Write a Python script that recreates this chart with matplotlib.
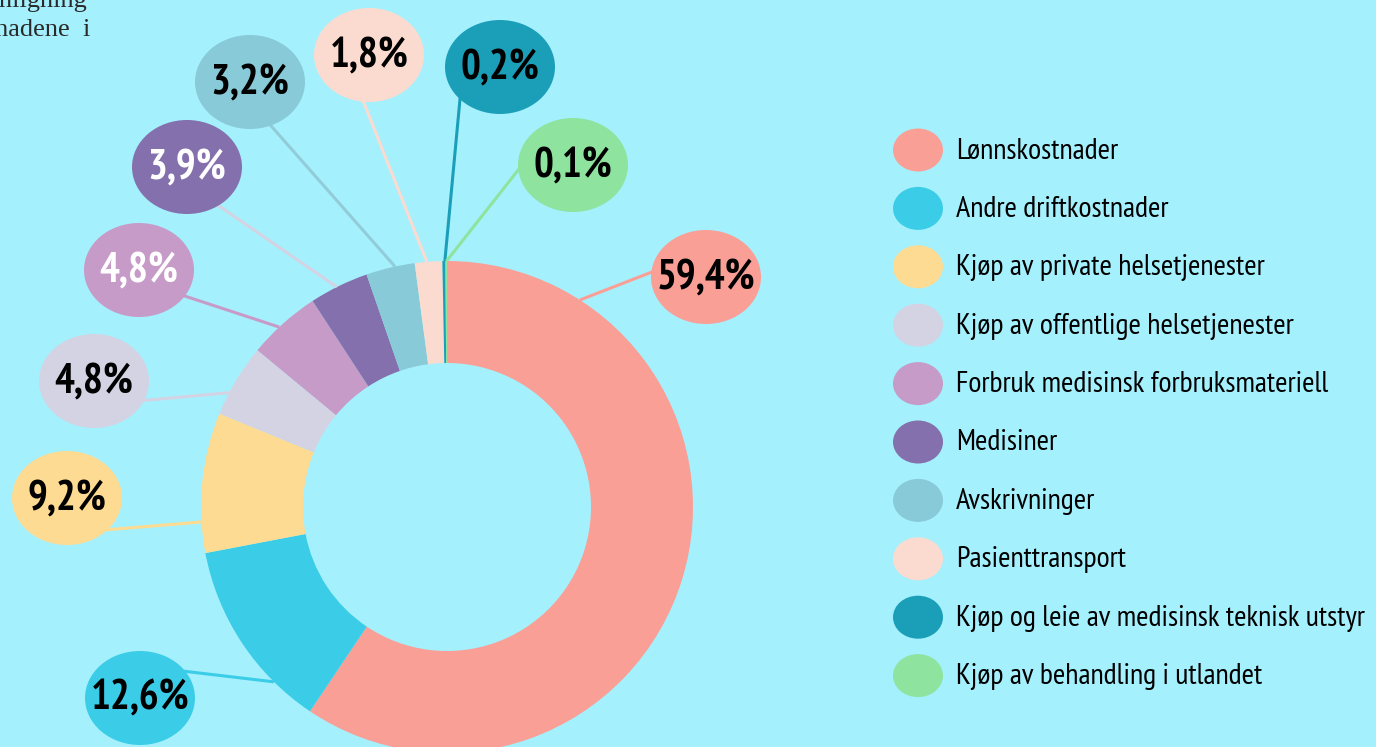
import matplotlib
matplotlib.use('Agg')
import matplotlib.pyplot as plt
from matplotlib.patches import Ellipse
import numpy as np

categories = ['Lønnskostnader', 'Andre driftkostnader', 'Kjøp av private helsetjenester',
              'Kjøp av offentlige helsetjenester', 'Forbruk medisinsk forbruksmateriell',
              'Medisiner', 'Avskrivninger', 'Pasienttransport',
              'Kjøp og leie av medisinsk teknisk utstyr', 'Kjøp av behandling i utlandet']
values = [59.4, 12.6, 9.2, 4.8, 4.8, 3.9, 3.2, 1.8, 0.2, 0.1]
value_labels = ['59,4%', '12,6%', '9,2%', '4,8%', '4,8%', '3,9%', '3,2%', '1,8%', '0,2%', '0,1%']

colors = ['#FA9F96', '#3BCDE7', '#FEDB92', '#D4D3E3', '#C69BC8',
          '#8470AD', '#88CAD7', '#FBDBD0', '#1B9FB8', '#8EE39E']
line_colors = ['#FA9F96', '#3BCDE7', '#FEDB92', '#D4D3E3', '#C69BC8',
               '#D4D3E3', '#92CCD8', '#FBDBD0', '#1B9FB8', '#8EE39E']
text_colors = ['black', 'black', 'black', 'black', 'white', 'white', 'black', 'black', 'black', 'black']
bg = '#A5F0FD'

W, H = 1376, 747
# layout (pixel space, y from top)
pie_center = (447, 507)
pie_r = 246
ring_w = 102
label_pos = [(706, 277), (140, 698), (67, 498), (94, 381), (139, 270),
             (187, 167), (250, 82), (369, 55), (500, 67), (573, 165)]
line_target = [(706, 251), (140, 666), (67, 533), (94, 405), (139, 281),
               (187, 184), (250, 102), (345, 55), (463, 67), (530, 155)]
anchor_deg = [57.3, 225.3, 183.5, 152.3, 133.0, 116.6, 102.2, 94.7, 90.5, 90.1]

NARROW = ['Myriad Pro', 'PT Sans Narrow', 'Fira Sans Condensed', 'Roboto Condensed',
          'IBM Plex Sans Condensed', 'Open Sans Condensed', 'DejaVu Sans']

fig = plt.figure(figsize=(W / 100, H / 100), dpi=100, facecolor=bg)
ax = fig.add_axes([0, 0, 1, 1])
ax.set_facecolor(bg)

ax.pie(values, colors=colors, startangle=90, counterclock=False, radius=pie_r,
       center=(pie_center[0], H - pie_center[1]),
       wedgeprops=dict(width=ring_w, linewidth=0))
ax.set_xlim(0, W)
ax.set_ylim(0, H)
ax.set_aspect('equal')
ax.axis('off')

cx0, cy0 = pie_center[0], H - pie_center[1]
for lab, col, lcol, tcol, (lx, ly), (tx, ty), a in zip(value_labels, colors, line_colors, text_colors,
                                                       label_pos, line_target, anchor_deg):
    ly = H - ly
    ty = H - ty
    px = cx0 + pie_r * np.cos(np.radians(a))
    py = cy0 + pie_r * np.sin(np.radians(a))
    ax.plot([px, tx], [py, ty], color=lcol, lw=2.2, zorder=3, solid_capstyle='butt')
    ax.add_patch(Ellipse((lx, ly), 110, 94, facecolor=col, edgecolor='none', zorder=4))
    ax.text(lx, ly - 1, lab, ha='center', va='center', fontsize=30, fontweight='bold',
            family=NARROW, color=tcol, zorder=5)

# legend
for i, (cat, col) in enumerate(zip(categories, colors)):
    y = H - (150 + i * 58.4)
    ax.add_patch(Ellipse((918, y), 50, 43, facecolor=col, edgecolor='none', zorder=4))
    ax.text(956, y - 1, cat, ha='left', va='center', fontsize=21.6, family=NARROW,
            color='black', zorder=5)

# cut-off body text at top left
ax.text(88, H - 7, 'sammenligning', ha='right', va='baseline', fontsize=19,
        family=['Liberation Serif', 'DejaVu Serif'], color='#2a2a2a')
ax.text(90, H - 36, 'kostnadene  i', ha='right', va='baseline', fontsize=19,
        family=['Liberation Serif', 'DejaVu Serif'], color='#2a2a2a')

fig.savefig('out.png', dpi=100, facecolor=bg)
